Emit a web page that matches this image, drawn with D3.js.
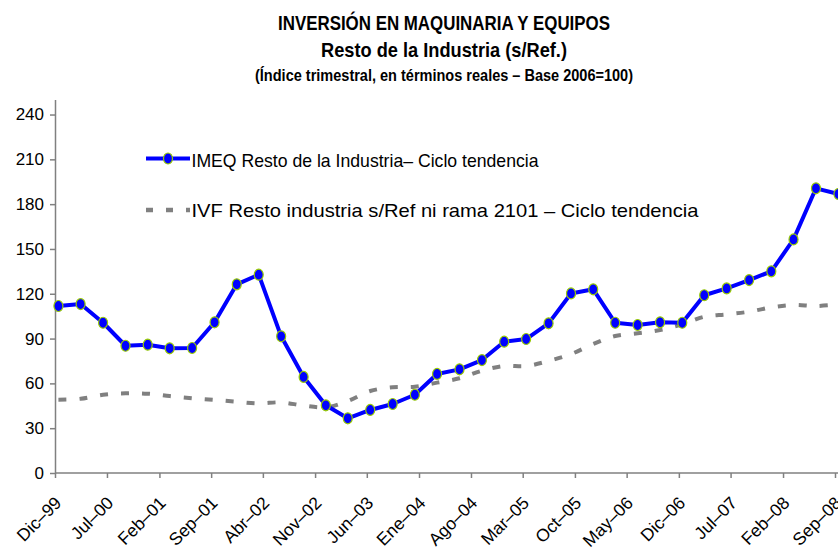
<!DOCTYPE html>
<html>
<head>
<meta charset="utf-8">
<script src="https://cdn.jsdelivr.net/npm/d3@7"></script>
<style>
  body { margin: 0; background: #fff; }
  text { font-family: "Liberation Sans", Arial, sans-serif; }
</style>
</head>
<body>
<div id="chart"></div>
<script>
// quarters (year-month), one point each
var quarters = ["1999-12","2000-03","2000-06","2000-09","2000-12","2001-03","2001-06","2001-09","2001-12",
  "2002-03","2002-06","2002-09","2002-12","2003-03","2003-06","2003-09","2003-12","2004-03","2004-06",
  "2004-09","2004-12","2005-03","2005-06","2005-09","2005-12","2006-03","2006-06","2006-09","2006-12",
  "2007-03","2007-06","2007-09","2007-12","2008-03","2008-06","2008-09"];

// IMEQ Resto de la Industria - ciclo tendencia
var imeq = [111.8, 113.1, 100.6, 85.2, 85.9, 83.5, 83.7, 100.9, 126.3, 132.8, 91.5, 64.3,
  45.3, 36.6, 42.2, 46.2, 52.4, 66.3, 69.4, 75.6, 87.9, 89.7, 100.2, 120.2,
  123.0, 100.6, 99.1, 100.9, 100.6, 119.0, 123.6, 129.2, 135.0, 156.4, 190.6, 186.8];

// IVF Resto industria s/Ref ni rama 2101 - ciclo tendencia
var ivf = [49.1, 49.7, 52.4, 53.4, 53.1, 51.5, 50.0, 48.9, 47.7, 46.6, 47.3, 45.1,
  44.0, 48.2, 54.9, 57.4, 57.8, 60.5, 63.4, 68.5, 71.6, 71.6, 75.0, 79.6,
  86.4, 91.7, 93.5, 95.7, 99.5, 104.6, 106.2, 108.0, 110.9, 112.5, 111.8, 112.9];

// x tick dates and labels (every 7 months)
var tickMonths = ["1999-12","2000-07","2001-02","2001-09","2002-04","2002-11","2003-06","2004-01",
  "2004-08","2005-03","2005-10","2006-05","2006-12","2007-07","2008-02","2008-09"];
var tickLabels = ["Dic–99","Jul–00","Feb–01","Sep–01","Abr–02","Nov–02","Jun–03","Ene–04",
  "Ago–04","Mar–05","Oct–05","May–06","Dic–06","Jul–07","Feb–08","Sep–08"];
var yTicks = [0, 30, 60, 90, 120, 150, 180, 210, 240];

var width = 838, height = 554;

var parseMonth = d3.utcParse("%Y-%m");
var midMonth = function(s) { return d3.utcDay.offset(parseMonth(s), 14); };

var svg = d3.select("#chart").append("svg")
    .attr("width", width)
    .attr("height", height);

var x = d3.scaleUtc()
    .domain([parseMonth("1999-12"), parseMonth("2008-09")])
    .range([55, 835]);
var y = d3.scaleLinear()
    .domain([0, 250])
    .range([473, 99.6]);

// Titles
var titles = [
  {t: "INVERSIÓN EN MAQUINARIA Y EQUIPOS", y: 30, size: 21, w: 332},
  {t: "Resto de la Industria (s/Ref.)", y: 56.5, size: 21, w: 246},
  {t: "(Índice trimestral, en términos reales – Base 2006=100)", y: 81, size: 16, w: 378}
];
titles.forEach(function(d) {
  svg.append("text")
      .attr("x", 444 - d.w / 2)
      .attr("y", d.y)
      .attr("font-size", d.size)
      .attr("font-weight", "bold")
      .attr("textLength", d.w)
      .attr("lengthAdjust", "spacingAndGlyphs")
      .text(d.t);
});

// Y axis
var yAxis = svg.append("g")
    .attr("transform", "translate(55,0)")
    .call(d3.axisLeft(y).tickValues(yTicks).tickSize(5).tickSizeOuter(0).tickPadding(6));
yAxis.select(".domain").attr("stroke", "#808080").attr("stroke-width", 1.5);
yAxis.selectAll(".tick line").attr("stroke", "#808080").attr("stroke-width", 1.5);
yAxis.selectAll(".tick text")
    .attr("font-size", 17)
    .attr("fill", "#000")
    .style("font-family", "'Liberation Sans', Arial, sans-serif");

// X axis
var xAxis = svg.append("g")
    .attr("transform", "translate(0,473)")
    .call(d3.axisBottom(x)
      .tickValues(tickMonths.map(parseMonth))
      .tickFormat(function(d, i) { return tickLabels[i]; })
      .tickSize(5).tickSizeOuter(0));
xAxis.select(".domain").attr("stroke", "#808080").attr("stroke-width", 1.5)
    .attr("d", "M55,0H840");
xAxis.selectAll(".tick line").attr("stroke", "#808080").attr("stroke-width", 1.5);
xAxis.selectAll(".tick text")
    .attr("font-size", 17.5)
    .attr("fill", "#000")
    .style("font-family", "'Liberation Sans', Arial, sans-serif")
    .attr("text-anchor", "end")
    .attr("dy", 0)
    .attr("y", 0)
    .attr("transform", "translate(7,31) rotate(-45)");

// IVF dashed smooth line
var ivfLine = d3.line()
    .x(function(d, i) { return x(midMonth(quarters[i])); })
    .y(function(d) { return y(d); })
    .curve(d3.curveCatmullRom);
svg.append("path")
    .attr("fill", "none")
    .attr("stroke", "#808080")
    .attr("stroke-width", 4)
    .attr("stroke-dasharray", "8,13")
    .attr("d", ivfLine(ivf));

// IMEQ line with markers
var imeqLine = d3.line()
    .x(function(d, i) { return x(midMonth(quarters[i])); })
    .y(function(d) { return y(d); });
svg.append("path")
    .attr("fill", "none")
    .attr("stroke", "#0000ff")
    .attr("stroke-width", 4)
    .attr("stroke-linejoin", "round")
    .attr("d", imeqLine(imeq));

svg.selectAll(".pt")
    .data(imeq)
  .enter().append("ellipse")
    .attr("class", "pt")
    .attr("cx", function(d, i) { return x(midMonth(quarters[i])); })
    .attr("cy", function(d) { return y(d); })
    .attr("rx", 4.5)
    .attr("ry", 5.5)
    .attr("fill", "#0000ff")
    .attr("stroke", "#99cc00")
    .attr("stroke-width", 1.2);

// Legend
var leg = svg.append("g");
leg.append("line")
    .attr("x1", 146).attr("x2", 190).attr("y1", 158.5).attr("y2", 158.5)
    .attr("stroke", "#0000ff").attr("stroke-width", 4);
leg.append("ellipse")
    .attr("cx", 168).attr("cy", 158.5).attr("rx", 4.5).attr("ry", 5.5)
    .attr("fill", "#0000ff").attr("stroke", "#99cc00").attr("stroke-width", 1.2);
leg.append("text")
    .attr("x", 191.5).attr("y", 166.5)
    .attr("font-size", 18.5)
    .attr("textLength", 347)
    .attr("lengthAdjust", "spacingAndGlyphs")
    .text("IMEQ Resto de la Industria– Ciclo tendencia");
leg.append("line")
    .attr("x1", 146).attr("x2", 190).attr("y1", 210).attr("y2", 210)
    .attr("stroke", "#808080").attr("stroke-width", 4.5)
    .attr("stroke-dasharray", "7,13");
leg.append("text")
    .attr("x", 191.5).attr("y", 216.5)
    .attr("font-size", 18.5)
    .attr("textLength", 507)
    .attr("lengthAdjust", "spacingAndGlyphs")
    .text("IVF Resto industria s/Ref ni rama 2101 – Ciclo tendencia");
</script>
</body>
</html>
